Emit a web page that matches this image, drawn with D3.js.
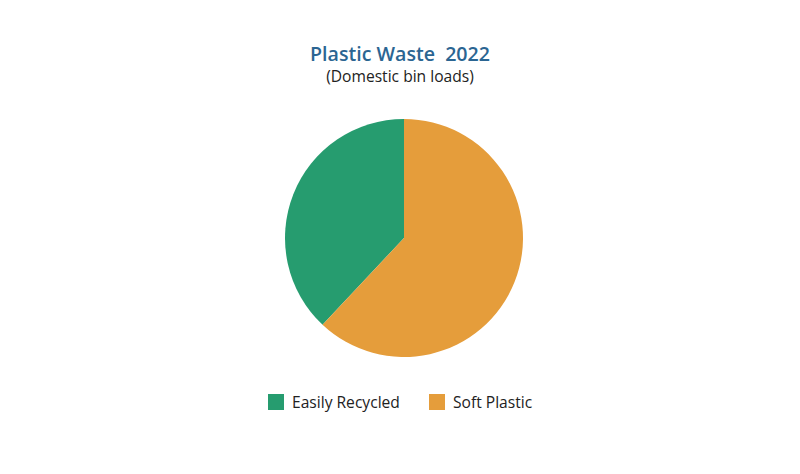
<!DOCTYPE html>
<html>
<head>
<meta charset="utf-8">
<title>Plastic Waste 2022</title>
<script src="https://d3js.org/d3.v7.min.js"></script>
<style>
  body { margin: 0; background: #fff; }
  svg { display: block; font-family: "Open Sans", sans-serif; }
</style>
</head>
<body>
<svg id="chart"></svg>
<script>
const categories = ["Easily Recycled", "Soft Plastic"];
const values = [38, 62];
const colors = ["#269c6f", "#e59d3b"];

const w = 800, h = 474;
const cx = 404, cy = 238, r = 119;

const svg = d3.select("#chart").attr("width", w).attr("height", h);

svg.append("text")
  .attr("x", 400).attr("y", 61)
  .attr("text-anchor", "middle")
  .style("font-size", "19.6px").style("font-weight", 600)
  .style("fill", "#2b6592")
  .attr("xml:space", "preserve")
  .text("Plastic Waste  2022");

svg.append("text")
  .attr("x", 400).attr("y", 82)
  .attr("text-anchor", "middle")
  .style("font-size", "15.6px")
  .style("fill", "#222")
  .text("(Domestic bin loads)");

const data = categories.map((c, i) => ({ name: c, value: values[i], color: colors[i] }));

// counter-clockwise from 12 o'clock
const pie = d3.pie().sort(null).value(d => d.value)
  .startAngle(0).endAngle(-2 * Math.PI);
const arc = d3.arc().innerRadius(0).outerRadius(r);

svg.append("g")
  .attr("transform", `translate(${cx},${cy})`)
  .selectAll("path")
  .data(pie(data))
  .join("path")
  .attr("d", arc)
  .attr("fill", d => d.data.color);

// legend
const legendX = d3.scaleOrdinal().domain(categories).range([268, 429]);
const legend = svg.append("g").selectAll("g")
  .data(data)
  .join("g")
  .attr("transform", d => `translate(${legendX(d.name)},394)`);

legend.append("rect")
  .attr("width", 16).attr("height", 16)
  .attr("fill", d => d.color);

legend.append("text")
  .attr("x", 24).attr("y", 14)
  .style("font-size", "15.6px")
  .style("fill", "#222")
  .text(d => d.name);
</script>
</body>
</html>
